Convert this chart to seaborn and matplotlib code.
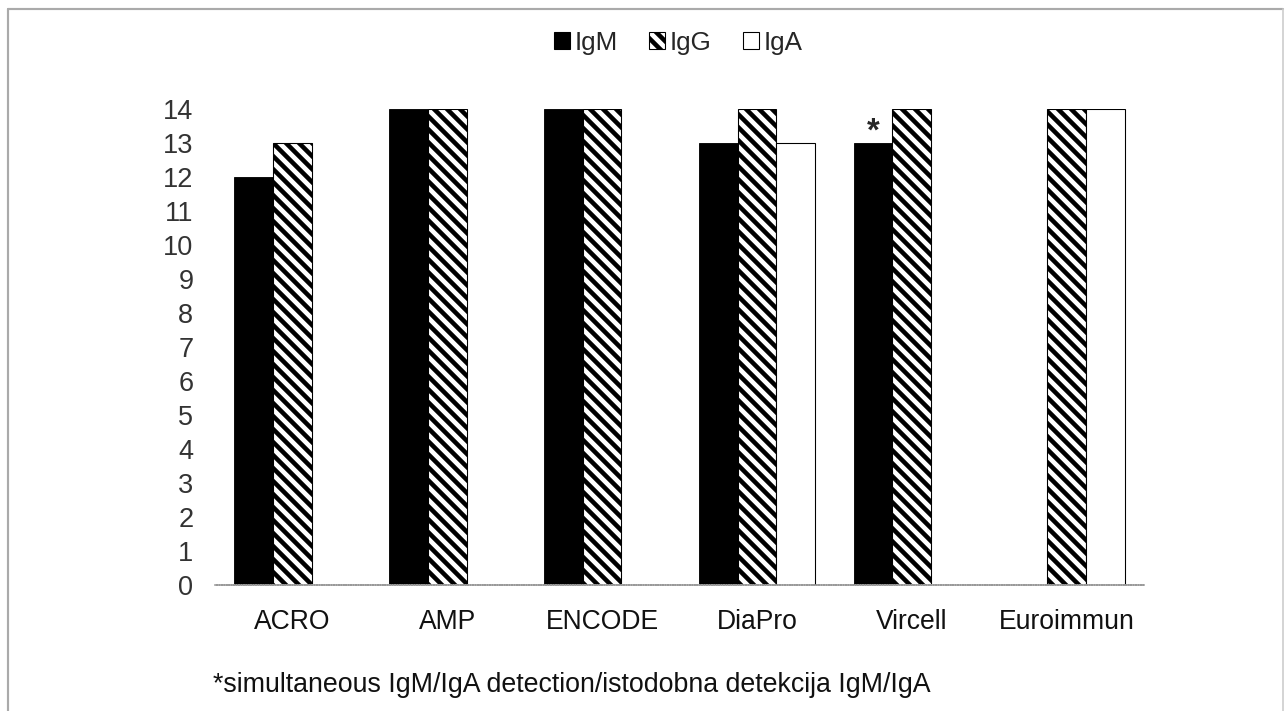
import matplotlib
matplotlib.use("Agg")
import matplotlib.pyplot as plt
import seaborn as sns
import pandas as pd
import numpy as np
from matplotlib.patches import Patch

categories = ["ACRO", "AMP", "ENCODE", "DiaPro", "Vircell", "Euroimmun"]
series = ["IgM", "IgG", "IgA"]
igm = [12, 14, 14, 13, 13, np.nan]
igg = [13, 14, 14, 14, 14, 14]
iga = [np.nan, np.nan, np.nan, 13, np.nan, 14]
yticks = list(range(0, 15))
footnote = "*simultaneous IgM/IgA detection/istodobna detekcija IgM/IgA"

rows = []
for s, vals in zip(series, [igm, igg, iga]):
    for c, v in zip(categories, vals):
        if not np.isnan(v):
            rows.append({"cat": c, "Ig": s, "val": v})
df = pd.DataFrame(rows)

sns.set_style("white")
plt.rcParams['font.family'] = ['Liberation Sans', 'DejaVu Sans']
plt.rcParams['hatch.linewidth'] = 4.2
plt.rcParams['hatch.color'] = 'black'

DPI = 78
fig = plt.figure(figsize=(1285 / DPI, 711 / DPI), dpi=DPI)
ax = fig.add_axes([0.1673, 0.1772, 0.8903 - 0.1673, 0.8467 - 0.1772])

palette = {"IgM": "black", "IgG": "white", "IgA": "white"}
sns.barplot(data=df, x="cat", y="val", hue="Ig", order=categories,
            hue_order=series, palette=palette, width=0.75, dodge=True,
            ax=ax, legend=False, saturation=1)

for cont, s in zip(ax.containers, series):
    for bar in cont:
        bar.set_edgecolor("black")
        if s == "IgG":
            bar.set_hatch("\\\\")
            bar.set_linewidth(1.0)
        elif s == "IgA":
            bar.set_linewidth(1.0)
        else:
            bar.set_linewidth(0.8)

# asterisk above Vircell IgM
vircell_bar = ax.containers[0][categories.index("Vircell")]
ax.text(vircell_bar.get_x() + vircell_bar.get_width() / 2, vircell_bar.get_height() - 0.12,
        "*", ha="center", va="bottom", fontsize=30, fontweight="bold")

ax.set_xlim(-0.5, len(categories) - 0.5)
ax.set_ylim(0, 14)
ax.set_yticks(yticks)
ax.set_yticklabels([str(t) for t in yticks], fontsize=25, color="#333333")
ax.tick_params(axis="x", labelsize=24.5, length=0, pad=22)
ax.tick_params(axis="y", length=0, pad=20)
for lab in ax.get_xticklabels():
    lab.set_color("#111111")
ax.set_xlabel("")
ax.set_ylabel("")
for sp in ["top", "right", "left"]:
    ax.spines[sp].set_visible(False)
ax.spines["bottom"].set_color("#999999")
ax.spines["bottom"].set_linewidth(1.5)
ax.spines["bottom"].set_linestyle((0, (1, 0.5)))

handles = [Patch(facecolor="black", edgecolor="black", label="IgM"),
           Patch(facecolor="white", edgecolor="black", hatch="\\\\", label="IgG"),
           Patch(facecolor="white", edgecolor="black", label="IgA")]
fig.legend(handles=handles, loc="center", bbox_to_anchor=(0.528, 0.94), ncol=3,
           frameon=False, fontsize=24, handlelength=0.6, handleheight=0.6,
           handletextpad=0.2, columnspacing=1.2)

fig.text(213 / 1285, 1 - 685 / 711, footnote, fontsize=24.7, ha="left", va="center",
         color="#111111")

# outer gray frame (left, top, right)
fig.add_artist(plt.Line2D([8 / 1285, 8 / 1285], [0, 1 - 9 / 711], color="#aaaaaa", lw=2,
                          transform=fig.transFigure))
fig.add_artist(plt.Line2D([8 / 1285, 1283 / 1285], [1 - 9 / 711, 1 - 9 / 711], color="#aaaaaa", lw=2,
                          transform=fig.transFigure))
fig.add_artist(plt.Line2D([1283 / 1285, 1283 / 1285], [0, 1 - 9 / 711], color="#cccccc", lw=1.5,
                          transform=fig.transFigure))

fig.savefig("out.png", dpi=DPI)
